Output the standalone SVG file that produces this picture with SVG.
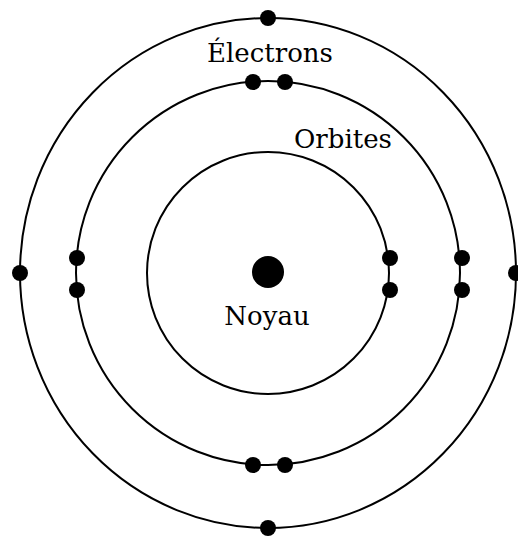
<svg xmlns="http://www.w3.org/2000/svg" width="518" height="538" viewBox="0 0 518 538">
<style>
.orb{fill:none;stroke:#000;stroke-width:2}
.e{fill:#000}
.lbl{font-family:"DejaVu Serif","Liberation Serif",serif;font-size:26px;fill:#000;text-anchor:middle}
</style>
<rect width="518" height="538" fill="#fff"/>
<g id="orbits">
<ellipse id="outer" class="orb" cx="268" cy="273" rx="248" ry="255"/>
<circle id="middle" class="orb" cx="268" cy="273" r="192"/>
<circle id="inner" class="orb" cx="268" cy="273" r="121"/>
</g>
<g id="nucleus"><circle class="e" cx="268" cy="272" r="16"/></g>
<g id="electrons">
<circle class="e" cx="268" cy="18" r="8"/>
<circle class="e" cx="268" cy="528" r="8"/>
<circle class="e" cx="20" cy="273" r="8"/>
<circle class="e" cx="516" cy="273" r="8"/>
<circle class="e" cx="253" cy="82" r="8"/>
<circle class="e" cx="285" cy="82" r="8"/>
<circle class="e" cx="253" cy="465" r="8"/>
<circle class="e" cx="285" cy="465" r="8"/>
<circle class="e" cx="77" cy="258" r="8"/>
<circle class="e" cx="77" cy="290" r="8"/>
<circle class="e" cx="462" cy="258" r="8"/>
<circle class="e" cx="462" cy="290" r="8"/>
<circle class="e" cx="390" cy="258" r="8"/>
<circle class="e" cx="390" cy="290" r="8"/>
</g>
<g id="labels">
<text class="lbl" x="270" y="62">Électrons</text>
<text class="lbl" x="343" y="148">Orbites</text>
<text class="lbl" x="267" y="325">Noyau</text>
</g>
</svg>
